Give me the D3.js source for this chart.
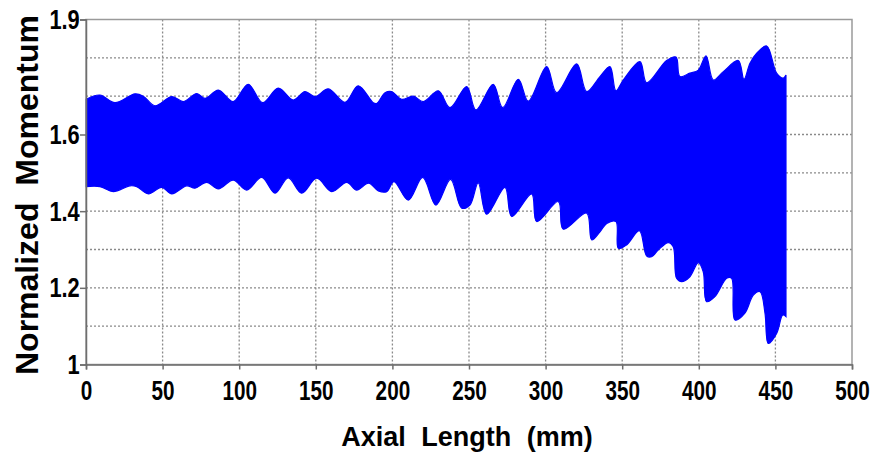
<!DOCTYPE html>
<html>
<head>
<meta charset="utf-8">
<script src="https://cdn.jsdelivr.net/npm/d3@7"></script>
<style>
  body { margin: 0; background: #fff; }
  svg { display: block; }
  text { font-family: "Liberation Sans", Arial, sans-serif; font-weight: bold; fill: #000; }
</style>
</head>
<body>
<svg width="874" height="454"></svg>
<script>
// upper envelope of the momentum band: [axial length mm, value]
var upperEnv = [
  [0, 1.692], [9.1, 1.703], [18.9, 1.683], [32, 1.706], [37.4, 1.700], [45, 1.675],
  [56, 1.699], [63.5, 1.686], [72.3, 1.707], [77.7, 1.694], [86.4, 1.716], [96.1, 1.686],
  [105.9, 1.731], [115.3, 1.683], [125.5, 1.721], [135.3, 1.690], [142.9, 1.712], [149.5, 1.699],
  [158.2, 1.719], [169.1, 1.684], [177.7, 1.727], [187.5, 1.683], [189.7, 1.681], [195.2, 1.709],
  [199.5, 1.712], [206, 1.692], [213.6, 1.700], [220.2, 1.686], [230, 1.714], [237.6, 1.670],
  [248.5, 1.725], [254.5, 1.664], [265.8, 1.731], [272, 1.670], [282.2, 1.744], [288.7, 1.687],
  [300.7, 1.777], [307.2, 1.709], [320.3, 1.784], [326.8, 1.712], [335.5, 1.751], [342, 1.777],
  [345.9, 1.714], [350.7, 1.742], [361.6, 1.790], [366, 1.735], [379, 1.793], [385.1, 1.802],
  [387.7, 1.751], [394.2, 1.760], [399.7, 1.768], [404.7, 1.805], [409.5, 1.742], [416, 1.764],
  [425.8, 1.793], [429.5, 1.744], [433.4, 1.786], [437.8, 1.812], [444.3, 1.831], [450.8, 1.760],
  [455.1, 1.747], [456.9, 1.755]
];

// lower envelope of the momentum band
var lowerEnv = [
  [0, 1.464], [9.1, 1.464], [17.8, 1.451], [28.7, 1.466], [33.1, 1.464], [40.7, 1.445],
  [49.4, 1.462], [56, 1.445], [65.7, 1.466], [71.1, 1.460], [78.8, 1.475], [86.4, 1.458],
  [96.1, 1.481], [104.9, 1.455], [114.7, 1.488], [123.4, 1.447], [132, 1.487], [140.8, 1.447],
  [150.6, 1.486], [160.4, 1.451], [170.2, 1.475], [176.7, 1.455], [184.5, 1.473], [190.8, 1.453],
  [196.3, 1.451], [201, 1.477], [210.4, 1.429], [219.8, 1.488], [228.4, 1.416], [238, 1.483],
  [245.2, 1.408], [250.6, 1.416], [256, 1.474], [261.5, 1.392], [273.5, 1.462], [277.9, 1.386],
  [290.9, 1.445], [294.2, 1.373], [308.3, 1.425], [311.5, 1.353], [326.8, 1.395], [330.1, 1.325],
  [335.5, 1.346], [339.9, 1.368], [345.9, 1.373], [347.5, 1.303], [352.9, 1.312], [361.2, 1.349],
  [366, 1.283], [369.2, 1.281], [373.6, 1.299], [380.1, 1.318], [383.3, 1.307], [385.5, 1.225],
  [388.8, 1.216], [394.2, 1.229], [399.7, 1.266], [402.9, 1.242], [405.1, 1.164], [410.5, 1.177],
  [418.2, 1.225], [421.4, 1.225], [423.6, 1.116], [430.1, 1.134], [435.6, 1.181], [440, 1.190],
  [443.2, 1.134], [445.4, 1.055], [450.8, 1.081], [454.8, 1.129], [456.9, 1.125]
];

var xTicks = [0, 50, 100, 150, 200, 250, 300, 350, 400, 450, 500];
var yTicks = [1, 1.2, 1.4, 1.6, 1.9];
var yGrid = [1.1, 1.2, 1.3, 1.4, 1.5, 1.6, 1.7, 1.8];

var svg = d3.select("svg"),
    plotL = 86, plotR = 852, plotT = 19.5, plotB = 364.5;

var x = d3.scaleLinear().domain([0, 500]).range([plotL, plotR]);
var y = d3.scaleLinear().domain([1, 1.9]).range([plotB, plotT]);

// grid
var grid = svg.append("g")
    .attr("stroke", "#8a8a8a")
    .attr("stroke-width", 1.3)
    .attr("stroke-dasharray", "2,2");
grid.selectAll("line.gx")
    .data(xTicks.slice(1, -1))
    .enter().append("line")
    .attr("x1", d => x(d)).attr("x2", d => x(d))
    .attr("y1", plotT).attr("y2", plotB);
grid.selectAll("line.gy")
    .data(yGrid)
    .enter().append("line")
    .attr("x1", plotL).attr("x2", plotR)
    .attr("y1", d => y(d)).attr("y2", d => y(d));

// band: smooth upper edge forward, straight down at the end, lower edge back
var line = d3.line()
    .x(d => x(d[0]))
    .y(d => y(d[1]))
    .curve(d3.curveCatmullRom.alpha(0.5));
var bandPath = line(upperEnv) + "L" + line(lowerEnv.slice().reverse()).slice(1) + "Z";
svg.append("path")
    .attr("d", bandPath)
    .attr("fill", "#0000ff")
    .attr("stroke", "#0000ff")
    .attr("stroke-width", 1.2);

// frame
svg.append("rect")
    .attr("x", plotL).attr("y", plotT)
    .attr("width", plotR - plotL).attr("height", plotB - plotT)
    .attr("fill", "none")
    .attr("stroke", "#9a9a9a")
    .attr("stroke-width", 1.5);

// axes
var xAxis = svg.append("g")
    .attr("transform", "translate(0," + plotB + ")")
    .call(d3.axisBottom(x).tickValues(xTicks).tickSize(5).tickPadding(11).tickFormat(d3.format("d")));
var yAxis = svg.append("g")
    .attr("transform", "translate(" + plotL + ",0)")
    .call(d3.axisLeft(y).tickValues(yTicks).tickSize(6).tickPadding(2).tickFormat(d => d === 1 ? "1" : d3.format(".1f")(d)));

[xAxis, yAxis].forEach(function(g) {
    g.select(".domain").attr("stroke", "#6e6e6e").attr("stroke-width", 1.5);
    g.selectAll(".tick line").attr("stroke", "#6e6e6e").attr("stroke-width", 1.5);
    g.selectAll("text")
        .attr("font-family", "Liberation Sans, Arial, sans-serif")
        .attr("font-weight", "bold")
        .attr("font-size", 28)
        .attr("fill", "#000");
});
xAxis.selectAll("text").attr("transform", "scale(0.74,1)");
yAxis.selectAll("text").attr("transform", "scale(0.78,1)");

// titles
svg.append("text")
    .attr("x", (plotL + plotR) / 2 - 2)
    .attr("y", 446)
    .attr("text-anchor", "middle")
    .attr("font-size", 27)
    .attr("word-spacing", 8)
    .text("Axial Length (mm)");

svg.append("text")
    .attr("transform", "translate(38," + 195 + ") rotate(-90)")
    .attr("text-anchor", "middle")
    .attr("font-size", 32)
    .attr("word-spacing", 8)
    .text("Normalized Momentum");
</script>
</body>
</html>
